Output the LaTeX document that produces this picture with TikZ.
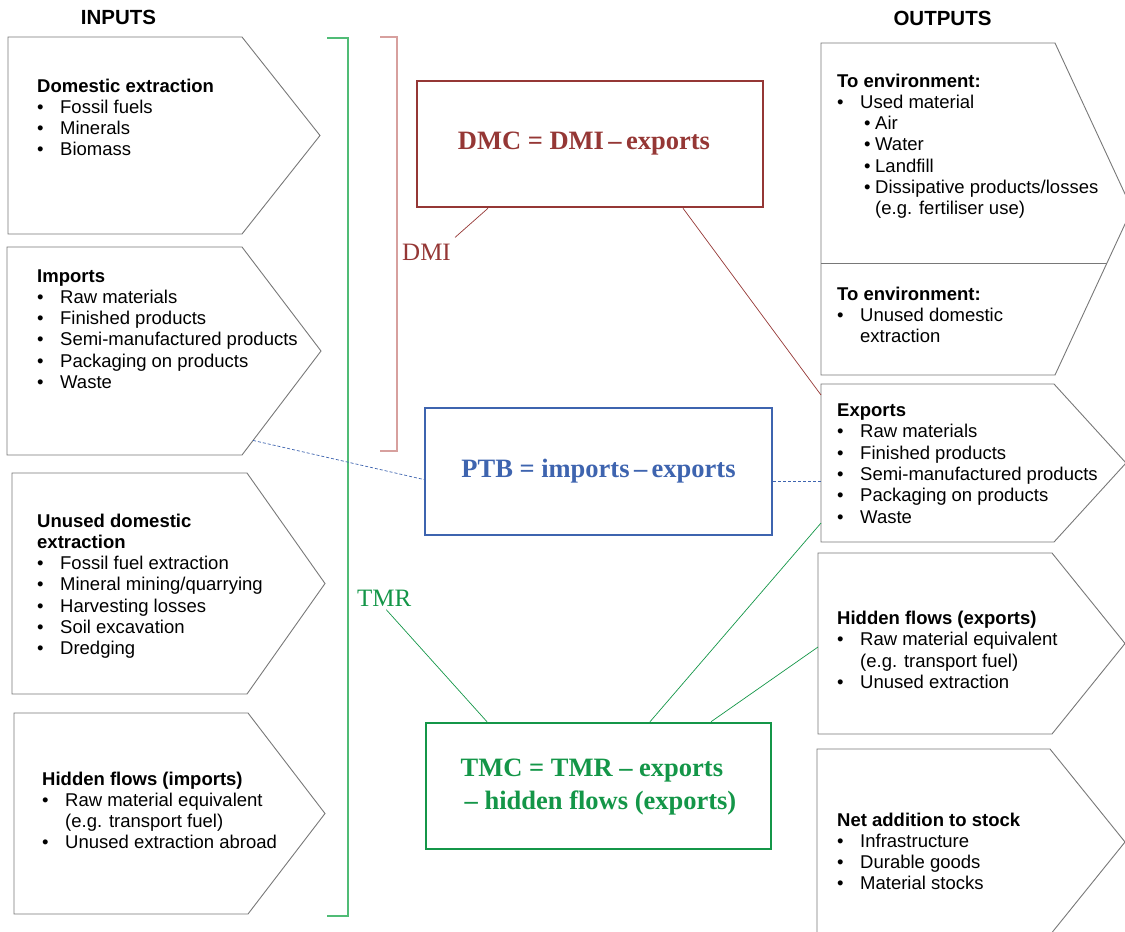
\documentclass[tikz,border=0pt]{standalone}
\usepackage{fontspec}
\setmainfont{Liberation Sans}
\newfontfamily\formulafont{Liberation Serif}
\usetikzlibrary{calc}

\definecolor{dmcred}{RGB}{149,55,53}
\definecolor{dmipink}{RGB}{215,160,158}
\definecolor{ptbblue}{RGB}{62,100,175}
\definecolor{tmcgreen}{RGB}{20,150,72}
\definecolor{tmrgreen}{RGB}{80,188,118}
\definecolor{outline}{RGB}{120,120,120}

% bullet and indented continuation for the lists
\newcommand\bu{\makebox[23pt][l]{\textbullet}}
\newcommand\cont{\hspace*{23pt}}
\newcommand\subbu{\hspace*{27pt}\makebox[11pt][l]{\textbullet}}
% a list block whose reference point is the baseline of its first line
\newcommand\block[1]{\begin{tabular}[t]{@{}l@{}}#1\end{tabular}}

% arrow-shaped box: name, left, top, right, bottom, tip x
\newcommand\chevron[6]{%
  \node[chevbody, minimum width={(#4-#2)*1pt}, minimum height={(#5-#3)*1pt}]
    (#1) at ({(#2+#4)/2},{(#3+#5)/2}) {};
  \coordinate (#1tip) at (#6,0 |- #1.east);
  \draw[chevline] (#1.north west) -- (#1.north east) -- (#1tip)
    -- (#1.south east) -- (#1.south west) -- cycle;
}

\tikzset{
  chevbody/.style={rectangle, draw=none, inner sep=0pt, outer sep=0pt},
  chevline/.style={draw=outline, line width=0.9pt, line join=miter},
  listtext/.style={anchor=base west, inner sep=0pt,
    font=\fontsize{18.5}{21.3}\selectfont},
  header/.style={anchor=base, inner sep=0pt, font=\fontsize{20.5}{24}\selectfont\bfseries},
  formulabox/.style={rectangle, line width=2.5pt, inner sep=0pt,
    font=\formulafont\fontsize{26.5}{33.3}\selectfont\bfseries},
  tag/.style={anchor=base west, inner sep=0pt, font=\formulafont\fontsize{25}{30}\selectfont},
  link/.style={line width=0.7pt},
  bracket/.style={line width=1.2pt},
}

\begin{document}
\begin{tikzpicture}[x=1pt, y=-1pt]
\useasboundingbox (0,0) rectangle (1125,932);
\clip (0,0) rectangle (1125,932);

% column headers
\node[header] (hin) at (118.5,24) {INPUTS};
\node[header] (hout) at (942.5,25) {OUTPUTS};

% input arrows
\chevron{in1}{8}{37}{242}{234}{320}
\chevron{in2}{7}{247}{242}{455}{321}
\chevron{in3}{12}{473}{247}{694}{325}
\chevron{in4}{14}{713}{248}{914}{325}

% output arrows
\chevron{out1}{821}{43}{1055}{375}{1132}
\draw[chevline] (821,263) -- (1107,263);
\chevron{out2}{821}{384}{1054}{542}{1126}
\chevron{out3}{818}{553}{1052}{734}{1125}
\chevron{out4}{817}{749}{1050}{935}{1125}

% input texts
\node[listtext] (t1) at (37,92) {\block{\textbf{Domestic extraction}\\
  \bu Fossil fuels\\ \bu Minerals\\ \bu Biomass}};
\node[listtext] (t2) at (37,282) {\block{\textbf{Imports}\\
  \bu Raw materials\\ \bu Finished products\\ \bu Semi-manufactured products\\
  \bu Packaging on products\\ \bu Waste}};
\node[listtext] (t3) at (37,527) {\block{\textbf{Unused domestic}\\ \textbf{extraction}\\
  \bu Fossil fuel extraction\\ \bu Mineral mining/quarrying\\ \bu Harvesting losses\\
  \bu Soil excavation\\ \bu Dredging}};
\node[listtext] (t4) at (42,785) {\block{\textbf{Hidden flows (imports)}\\
  \bu Raw material equivalent\\ \cont(e.g. transport fuel)\\ \bu Unused extraction abroad}};

% output texts
\node[listtext] (u1) at (837,87) {\block{\textbf{To environment:}\\
  \bu Used material\\ \subbu Air\\ \subbu Water\\ \subbu Landfill\\
  \subbu Dissipative products/losses\\ \hspace*{38pt}(e.g. fertiliser use)}};
\node[listtext] (u1b) at (837,300) {\block{\textbf{To environment:}\\
  \bu Unused domestic\\ \cont extraction}};
\node[listtext] (u2) at (837,416.5) {\block{\textbf{Exports}\\
  \bu Raw materials\\ \bu Finished products\\ \bu Semi-manufactured products\\
  \bu Packaging on products\\ \bu Waste}};
\node[listtext] (u3) at (837,624.5) {\block{\textbf{Hidden flows (exports)}\\
  \bu Raw material equivalent\\ \cont(e.g. transport fuel)\\ \bu Unused extraction}};
\node[listtext] (u4) at (837,826) {\block{\textbf{Net addition to stock}\\
  \bu Infrastructure\\ \bu Durable goods\\ \bu Material stocks}};

% indicator boxes
\node[formulabox, draw=dmcred, text=dmcred, minimum width=346pt, minimum height=126pt]
  (dmc) at (590,144) {\hspace*{-12pt}DMC = DMI\,–\,exports};
\node[formulabox, draw=ptbblue, text=ptbblue, minimum width=347pt, minimum height=127pt]
  (ptb) at (598.5,471.5) {\raisebox{6pt}{PTB = imports\,–\,exports}};
\node[formulabox, draw=tmcgreen, text=tmcgreen, minimum width=345pt, minimum height=126pt]
  (tmc) at (598.5,786) {\raisebox{6pt}{\begin{tabular}{@{}l@{}}TMC = TMR – exports\\
  \hspace*{4pt}– hidden flows (exports)\end{tabular}}};

% brackets with their labels
\draw[bracket, dmipink] (380,37) -- (397,37) -- (397,451) -- (380,451);
\draw[bracket, tmrgreen] (327,38) -- (348,38) -- (348,916) -- (327,916);
\node[tag, text=dmcred] (dmi) at (402,260) {DMI};
\node[tag, text=tmcgreen] (tmr) at (357,606.5) {TMR};

% connectors
\draw[link, dmcred] ([xshift=4pt,yshift=6pt]dmi.north east) -- (488,0 |- dmc.south);
\draw[link, dmcred] (683,0 |- dmc.south) -- (out2.west |- 0,395);
\draw[link, ptbblue, densely dashed] ($(in2tip)!0.86!(in2.south east)$) -- ([yshift=-8pt]ptb.west);
\draw[link, ptbblue, densely dashed] ([yshift=-10pt]ptb.east) coordinate (pr) -- (pr -| out2.west);
\draw[link, tmcgreen] ([xshift=2pt,yshift=-3pt]tmr.south) -- (487,0 |- tmc.north);
\draw[link, tmcgreen] (650,0 |- tmc.north) -- (out2.west |- 0,523);
\draw[link, tmcgreen] (711,0 |- tmc.north) -- (out3.west |- 0,647);
\end{tikzpicture}
\end{document}
